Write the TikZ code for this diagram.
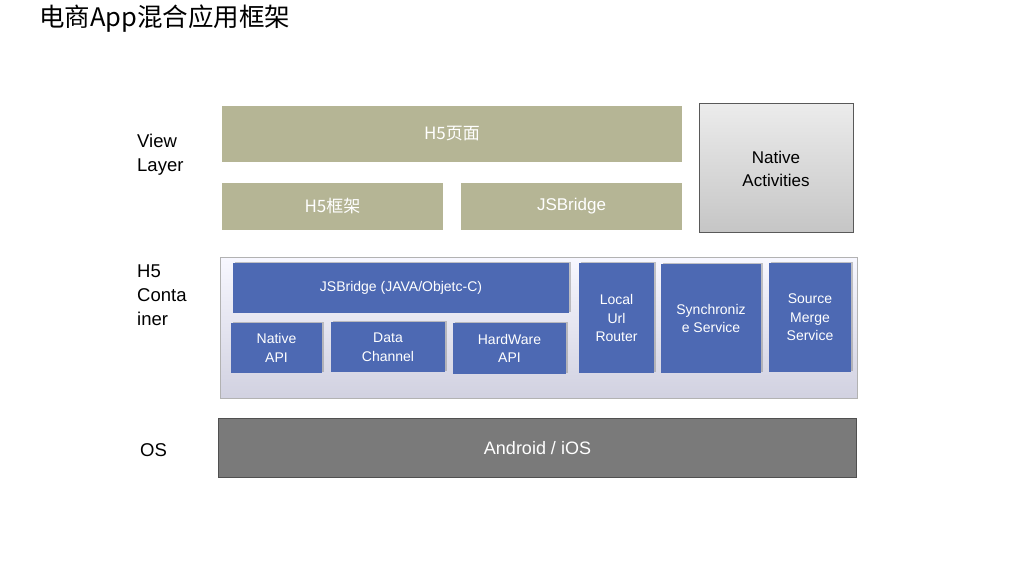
\documentclass[tikz,border=0pt]{standalone}
\usepackage{fontspec}
\setmainfont{Liberation Sans}
\newfontfamily\cjk{Noto Sans CJK SC}
\usetikzlibrary{shadows}
\definecolor{olive}{HTML}{B5B595}
\definecolor{bluebox}{HTML}{4D69B3}
\definecolor{osgray}{HTML}{7A7A7A}
\definecolor{osborder}{HTML}{505050}
\tikzset{
  olivebox/.style={fill=olive, draw=none, text=white, font=\fontsize{17}{20}\selectfont\cjk, inner sep=0pt},
  bluebx/.style={fill=bluebox, draw=none, text=white, align=center, font=\fontsize{14}{18.5}\selectfont, inner sep=0pt,
    drop shadow={shadow xshift=1.5pt, shadow yshift=1.5pt, fill=black!45, opacity=0.5}},
  layerlabel/.style={anchor=north west, align=left, font=\fontsize{18.5}{24}\selectfont, inner sep=0pt},
}
\begin{document}
\begin{tikzpicture}[x=1pt,y=-1pt]
\useasboundingbox (0,0) rectangle (1024,576);
\fill[white] (0,0) rectangle (1024,576);
% title
\node[anchor=west, font=\fontsize{25.5}{28}\selectfont\cjk, inner sep=0pt] (title) at (39,19) {电商App混合应用框架};
% View layer
\node[olivebox, minimum width=460pt, minimum height=56pt] (h5page) at (452,134) {H5页面};
\node[olivebox, minimum width=221pt, minimum height=47pt] (h5frame) at (332.5,206.5) {H5框架};
\node[olivebox, minimum width=221pt, minimum height=47pt, font=\fontsize{17}{20}\selectfont] (jsb) at (571.5,206.5) {JSBridge};
\shade[top color=gray!15, bottom color=gray!45, draw=gray!70!black, line width=0.8pt] (699,103) rectangle (853,232);
\node[align=center, font=\fontsize{17}{23}\selectfont, inner sep=0pt] (native) at (776,169) {Native\\Activities};
% H5 container
\shade[top color=blue!3!white, bottom color=blue!20!gray!30, draw=gray!60, line width=0.8pt] (220,257) rectangle (857,398);
\node[bluebx, minimum width=336pt, minimum height=50pt] (jsbn) at (401,288) {JSBridge (JAVA/Objetc-C)};
\node[bluebx, minimum width=91pt, minimum height=50pt] (napi) at (276.5,348) {Native\\API};
\node[bluebx, minimum width=114pt, minimum height=50pt] (dch) at (388,347) {Data\\Channel};
\node[bluebx, minimum width=113pt, minimum height=51pt] (hw) at (509.5,348.5) {HardWare\\API};
\node[bluebx, minimum width=75pt, minimum height=110pt] (lur) at (616.5,318) {Local\\Url\\Router};
\node[bluebx, minimum width=100pt, minimum height=109pt] (sync) at (711,318.5) {Synchroniz\\e Service};
\node[bluebx, minimum width=82pt, minimum height=109pt] (smg) at (810,317.5) {Source\\Merge\\Service};
% OS
\node[fill=osgray, draw=osborder, line width=1.8pt, minimum width=638pt, minimum height=59pt, text=white, font=\fontsize{18}{22}\selectfont, inner sep=0pt] (os) at (537.5,448) {Android / iOS};
% labels
\node[layerlabel] (lv) at (137,134) {View\\Layer};
\node[layerlabel] (lh) at (137,265) {H5\\Conta\\iner};
\node[layerlabel] (lo) at (140,443) {OS};
\end{tikzpicture}
\end{document}
